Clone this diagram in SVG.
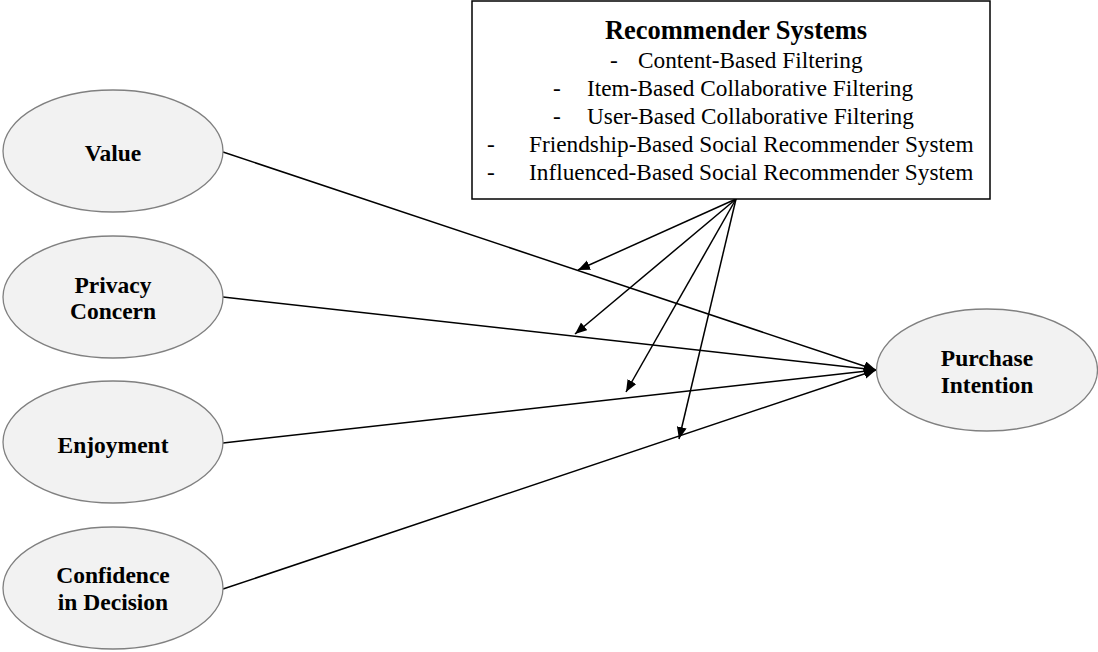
<svg xmlns="http://www.w3.org/2000/svg" width="1098" height="652" viewBox="0 0 1098 652">
<style>
.node ellipse{fill:#f2f2f2;stroke:#808080;stroke-width:1.3}
.lbl{font-family:"Liberation Serif","Times New Roman",serif;font-weight:bold;font-size:23.5px;fill:#000;text-anchor:middle}
.box{fill:#fff;stroke:#000;stroke-width:1.5}
.title{font-family:"Liberation Serif","Times New Roman",serif;font-weight:bold;font-size:26.5px;fill:#000;text-anchor:middle}
.item{font-family:"Liberation Serif","Times New Roman",serif;font-size:23.3px;fill:#000}
.conn line{stroke:#000;stroke-width:1.5;fill:none;marker-end:url(#ah)}
</style>
<defs>
<marker id="ah" markerUnits="userSpaceOnUse" markerWidth="14" markerHeight="12" refX="12" refY="5" orient="auto">
<path d="M0,0 L12,5 L0,10 Z" fill="#000"/>
</marker>
</defs>
<rect width="1098" height="652" fill="#fff"/>
<g class="conn">
<line x1="223" y1="152" x2="876" y2="370"/>
<line x1="223" y1="297" x2="876" y2="370"/>
<line x1="223" y1="443" x2="876" y2="370"/>
<line x1="223" y1="589" x2="876" y2="370"/>
<line x1="736" y1="199" x2="578" y2="270"/>
<line x1="736" y1="199" x2="575" y2="334"/>
<line x1="736" y1="199" x2="626" y2="392"/>
<line x1="736" y1="199" x2="679" y2="439"/>
</g>
<g id="recommender">
<rect class="box" x="472" y="1" width="518" height="198"/>
<text class="title" x="736" y="39">Recommender Systems</text>
<text class="item" y="68"><tspan x="610">-</tspan><tspan x="638">Content-Based Filtering</tspan></text>
<text class="item" y="96"><tspan x="553">-</tspan><tspan x="587">Item-Based Collaborative Filtering</tspan></text>
<text class="item" y="124"><tspan x="553">-</tspan><tspan x="587">User-Based Collaborative Filtering</tspan></text>
<text class="item" y="152"><tspan x="487">-</tspan><tspan x="529">Friendship-Based Social Recommender System</tspan></text>
<text class="item" y="180"><tspan x="487">-</tspan><tspan x="529">Influenced-Based Social Recommender System</tspan></text>
</g>
<g id="value" class="node">
<ellipse cx="113" cy="151" rx="110" ry="61"/>
<text class="lbl" x="113" y="161">Value</text>
</g>
<g id="privacy" class="node">
<ellipse cx="113" cy="297" rx="110" ry="61"/>
<text class="lbl" x="113" y="293">Privacy</text>
<text class="lbl" x="113" y="319">Concern</text>
</g>
<g id="enjoyment" class="node">
<ellipse cx="113" cy="442" rx="110" ry="61"/>
<text class="lbl" x="113" y="453">Enjoyment</text>
</g>
<g id="confidence" class="node">
<ellipse cx="113" cy="588" rx="110" ry="61"/>
<text class="lbl" x="113" y="583">Confidence</text>
<text class="lbl" x="113" y="610">in Decision</text>
</g>
<g id="purchase" class="node">
<ellipse cx="987" cy="370" rx="110.5" ry="61"/>
<text class="lbl" x="987" y="366">Purchase</text>
<text class="lbl" x="987" y="393">Intention</text>
</g>
</svg>
